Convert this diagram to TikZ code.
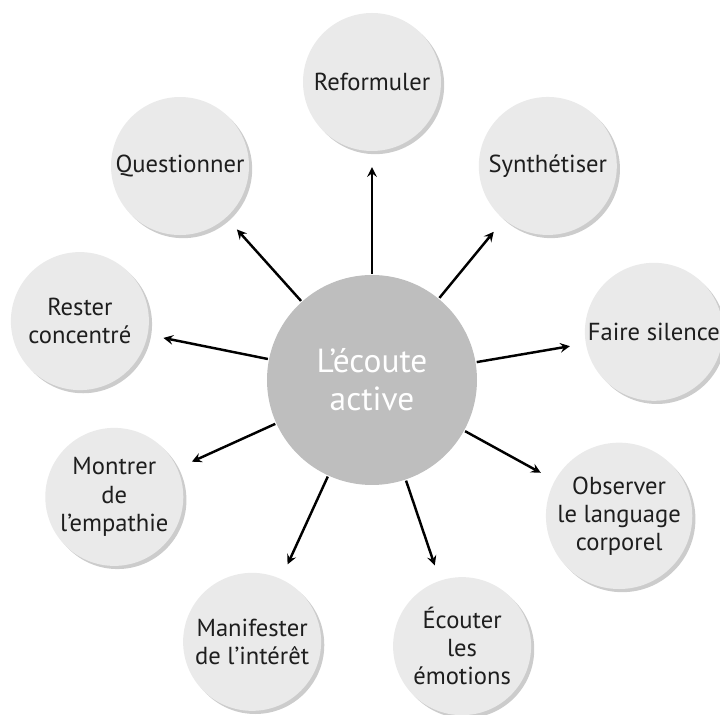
\documentclass[tikz,border=0pt]{standalone}
\usepackage{fontspec}
\setmainfont{PT Sans}
\usetikzlibrary{shadows}
\definecolor{grisclair}{RGB}{234,234,234}
\definecolor{grismoyen}{RGB}{190,190,190}
\definecolor{texte}{RGB}{30,30,30}
\begin{document}
\begin{tikzpicture}[->,>=stealth,shorten >=0.3cm, line width=1.4pt,
  centre/.style={circle, fill=grismoyen, minimum size=4.2cm, inner sep=0pt,
    text=white, align=center, font=\fontsize{19}{21.5}\selectfont},
  branche/.style={circle, fill=grisclair, minimum size=2.76cm, inner sep=0pt,
    text=texte, align=center, font=\fontsize{14}{16}\selectfont,
    drop shadow={shadow xshift=1.8pt, shadow yshift=-1.8pt, opacity=0.4}}]
\useasboundingbox (-7.44,-6.7) rectangle (6.96,7.6);
% Noeuds
\node [centre]  (C)   at (0,0)           {L’écoute\\active};
\node [branche] (Ref) at (90:5.96cm)     {Reformuler};
\node [branche] (Syn) at (50.6:5.54cm)   {Synthétiser};
\node [branche] (Sil) at (9.7:5.72cm)    {Faire silence};
\node [branche] (Obs) at (-28.8:5.64cm)  {Observer\\le language\\corporel};
\node [branche] (Emo) at (-71.3:5.62cm)  {Écouter\\les\\émotions};
\node [branche] (Int) at (-114.6:5.76cm) {Manifester\\de l’intérêt};
\node [branche] (Emp) at (-155.6:5.66cm) {Montrer\\de\\l’empathie};
\node [branche] (Con) at (168.6:5.96cm)  {Rester\\concentré};
\node [branche] (Que) at (131.9:5.75cm)  {Questionner};
% Fleches
\path (C) edge (Ref);
\path (C) edge (Syn);
\path (C) edge (Sil);
\path (C) edge (Obs);
\path (C) edge (Emo);
\path (C) edge (Int);
\path (C) edge (Emp);
\path (C) edge (Con);
\path (C) edge (Que);
\end{tikzpicture}
\end{document}
